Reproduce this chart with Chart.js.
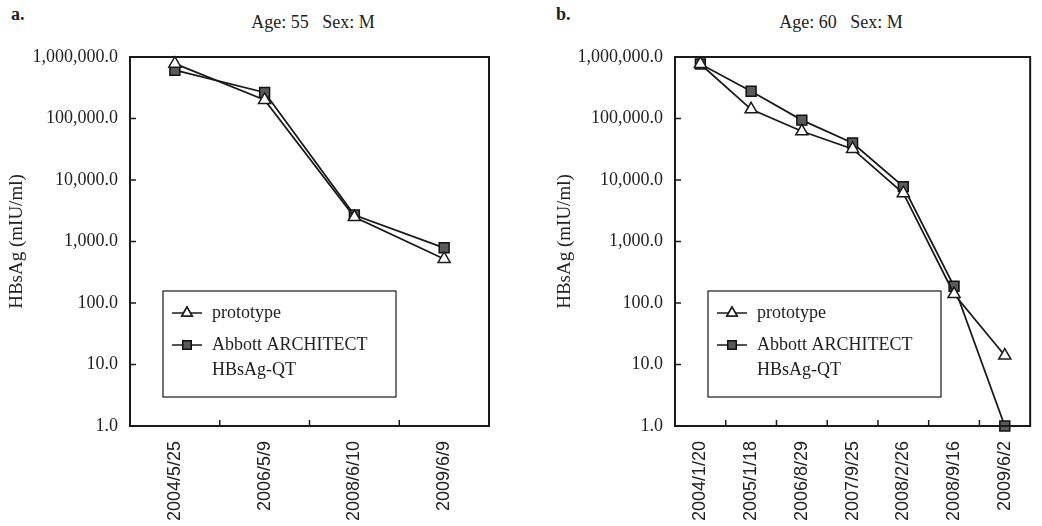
<!DOCTYPE html>
<html>
<head>
<meta charset="utf-8">
<script src="https://cdn.jsdelivr.net/npm/chart.js@4.4.0/dist/chart.umd.min.js"></script>
<style>
  body { margin: 0; background: #fff; width: 1042px; height: 526px; overflow: hidden; position: relative; }
  canvas { position: absolute; top: 0; }
  .tag { position: absolute; top: 4px; font: bold 18px "Liberation Serif", serif; color: #222; }
  .ttl { position: absolute; top: 12px; font: 18px "Liberation Serif", serif; color: #222; white-space: pre; transform: translateX(-50%); }
</style>
</head>
<body>
<div class="tag" style="left:11px">a.</div>
<div class="tag" style="left:556px">b.</div>
<div class="ttl" style="left:313px">Age: 55   Sex: M</div>
<div class="ttl" style="left:841px">Age: 60   Sex: M</div>
<canvas id="chart-a" width="520" height="526" style="left:0"></canvas>
<canvas id="chart-b" width="502" height="526" style="left:540px"></canvas>
<script>
// y axis (log) ticks shared by both panels
var yTicks = [1, 10, 100, 1000, 10000, 100000, 1000000];
var yTickLabels = ["1.0", "10.0", "100.0", "1,000.0", "10,000.0", "100,000.0", "1,000,000.0"];

var seriesNames = ["prototype", "Abbott ARCHITECT\nHBsAg-QT"];

// panel a: Age 55, M
var datesA = ["2004/5/25", "2006/5/9", "2008/6/10", "2009/6/9"];
var prototypeA = [780000, 200000, 2500, 520];
var abbottA = [610000, 265000, 2700, 790];

// panel b: Age 60, M
var datesB = ["2004/1/20", "2005/1/18", "2006/8/29", "2007/9/25", "2008/2/26", "2008/9/16", "2009/6/2"];
var prototypeB = [770000, 141000, 62000, 32000, 6100, 140, 14];
var abbottB = [770000, 278000, 94000, 40000, 7800, 187, 1];

function drawMarker(ctx, style, r, x, y) {
    if (Chart.helpers && Chart.helpers.drawPoint) {
        Chart.helpers.drawPoint(ctx, { pointStyle: style, radius: r, rotation: 0, borderWidth: 1.5 }, x, y);
        ctx.fill();
        ctx.stroke();
    }
}

// box around the plot, inward ticks, and the legend inside the plot
var framePlugin = {
    id: "frame",
    afterDraw: function (chart) {
        var ctx = chart.ctx;
        var a = chart.chartArea;
        var xs = chart.scales.x;
        var ys = chart.scales.y;
        ctx.save();
        ctx.strokeStyle = "#1a1a1a";
        ctx.lineWidth = 2;
        ctx.strokeRect(a.left, a.top, a.right - a.left, a.bottom - a.top);
        ctx.lineWidth = 1.5;
        ctx.beginPath();
        ys.ticks.forEach(function (t) {
            var py = ys.getPixelForValue(t.value);
            ctx.moveTo(a.left, py);
            ctx.lineTo(a.left + 6, py);
        });
        for (var i = 1; i < chart.data.labels.length; i++) {
            var px = (xs.getPixelForValue(i - 1) + xs.getPixelForValue(i)) / 2;
            ctx.moveTo(px, a.bottom);
            ctx.lineTo(px, a.bottom - 6);
        }
        ctx.stroke();

        // legend
        var bx = a.left + 33, by = a.top + 234, bw = 233, bh = 106;
        ctx.fillStyle = "#fff";
        ctx.fillRect(bx, by, bw, bh);
        ctx.lineWidth = 1.2;
        ctx.strokeRect(bx, by, bw, bh);
        ctx.font = "18px 'Liberation Serif', serif";
        ctx.textBaseline = "middle";
        var rowY = [by + 22, by + 54];
        chart.data.datasets.forEach(function (ds, k) {
            var ly = rowY[k];
            ctx.strokeStyle = "#1a1a1a";
            ctx.lineWidth = 1.5;
            ctx.beginPath();
            ctx.moveTo(bx + 9, ly);
            ctx.lineTo(bx + 39, ly);
            ctx.stroke();
            ctx.fillStyle = ds.pointBackgroundColor;
            ctx.strokeStyle = ds.pointBorderColor;
            ctx.lineWidth = 1.5;
            drawMarker(ctx, ds.pointStyle, 6, bx + 24, ly);
            ctx.fillStyle = "#222";
            ds.label.split("\n").forEach(function (line, j) {
                ctx.fillText(line, bx + 49, ly + j * 25);
            });
        });
        ctx.restore();
    }
};

function makePanel(canvasId, dates, proto, abbott, yWidth, titlePad, rightPad) {
    return new Chart(document.getElementById(canvasId).getContext("2d"), {
        type: "line",
        data: {
            labels: dates,
            datasets: [
                {
                    label: seriesNames[0],
                    data: proto,
                    borderColor: "#1a1a1a",
                    borderWidth: 1.8,
                    pointStyle: "triangle",
                    pointRadius: 7,
                    pointBackgroundColor: "#ffffff",
                    pointBorderColor: "#1a1a1a",
                    pointBorderWidth: 1.5,
                    clip: false,
                },
                {
                    label: seriesNames[1],
                    data: abbott,
                    borderColor: "#1a1a1a",
                    borderWidth: 1.8,
                    pointStyle: "rect",
                    pointRadius: 7,
                    pointBackgroundColor: "#5a5a5a",
                    pointBorderColor: "#111111",
                    pointBorderWidth: 1.5,
                    clip: false,
                },
            ],
        },
        options: {
            responsive: false,
            animation: false,
            layout: { padding: { top: 57, right: rightPad, bottom: 0, left: 0 } },
            plugins: { legend: { display: false }, tooltip: { enabled: false } },
            scales: {
                x: {
                    offset: true,
                    grid: { display: false, drawTicks: false },
                    border: { display: false },
                    ticks: {
                        minRotation: 90,
                        maxRotation: 90,
                        autoSkip: false,
                        padding: 15,
                        color: "#222",
                        font: { family: "'Liberation Sans', sans-serif", size: 18 },
                    },
                    afterFit: function (scale) { scale.height = 100; },
                },
                y: {
                    type: "logarithmic",
                    min: 1,
                    max: 1000000,
                    grid: { display: false, drawTicks: false },
                    border: { display: false },
                    afterBuildTicks: function (scale) {
                        scale.ticks = yTicks.map(function (v) { return { value: v }; });
                    },
                    ticks: {
                        padding: 12,
                        color: "#222",
                        font: { family: "'Liberation Serif', serif", size: 18 },
                        callback: function (value, index) { return yTickLabels[index]; },
                    },
                    title: {
                        display: true,
                        text: "HBsAg (mIU/ml)",
                        color: "#222",
                        padding: { top: titlePad, bottom: 0 },
                        font: { family: "'Liberation Serif', serif", size: 19 },
                    },
                    afterFit: function (scale) { scale.width = yWidth; },
                },
            },
        },
        plugins: [framePlugin],
    });
}

makePanel("chart-a", datesA, prototypeA, abbottA, 130, 6, 31);
makePanel("chart-b", datesB, prototypeB, abbottB, 135, 14, 3);
</script>
</body>
</html>
